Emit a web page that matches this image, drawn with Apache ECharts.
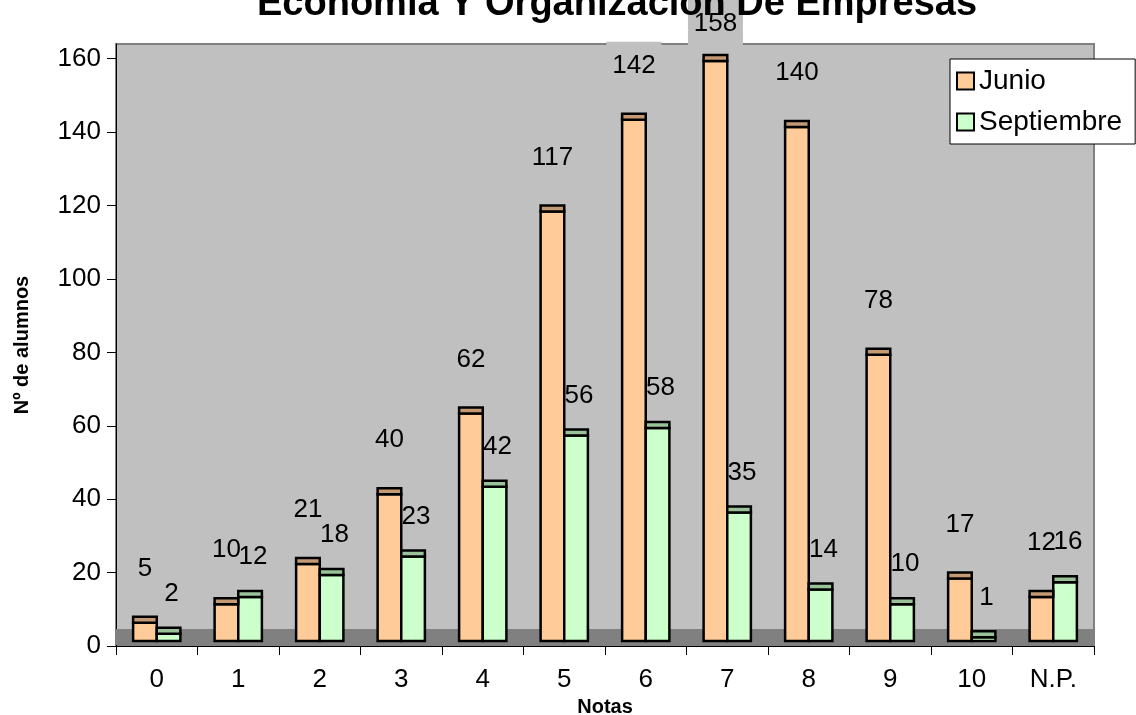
<!DOCTYPE html>
<html>
<head>
<meta charset="utf-8">
<script src="https://cdn.jsdelivr.net/npm/echarts@6/dist/echarts.min.js"></script>
<style>
html,body{margin:0;padding:0;background:#fff;}
#chart{width:1136px;height:715px;}
</style>
</head>
<body>
<div id="chart"></div>
<script>
const categories = ['0','1','2','3','4','5','6','7','8','9','10','N.P.'];
const junio = [5,10,21,40,62,117,142,158,140,78,17,12];
const septiembre = [2,12,18,23,42,56,58,35,14,10,1,16];
const yTicks = [0,20,40,60,80,100,120,140,160];

const FONT = '"Liberation Sans", Arial, sans-serif';
const chart = echarts.init(document.getElementById('chart'), null, {renderer:'canvas'});

function makeRender(side, front, cap, labelUp, labelDx) {
  return function (params, api) {
    const cs = params.coordSys;
    const x = api.value(0), v = api.value(1);
    const base = api.coord([x, 0]);
    const top = api.coord([x, v]);
    const band = api.size([1, 0])[0];
    const bw = band * 0.29;
    const lift = 5, depth = 6;
    const left = side === 0 ? base[0] - bw : base[0];
    const frontTop = top[1] - lift;
    const capTop = frontTop - depth;
    const baseY = base[1] - lift;
    const children = [];
    if (side === 0 && params.dataIndex === 0) {
      children.push({type:'rect', z2:1, shape:{x:cs.x, y:cs.y + cs.height - 17, width:cs.width, height:16},
        style:{fill:'#808080'}});
    }
    children.push({type:'rect', z2:10, shape:{x:left, y:frontTop, width:bw, height:baseY - frontTop},
      style:{fill:front, stroke:'#000', lineWidth:2.5}});
    children.push({type:'rect', z2:11, shape:{x:left, y:capTop, width:bw, height:depth},
      style:{fill:cap, stroke:'#000', lineWidth:2.5}});
    const cx = left + bw / 2 + labelDx;
    const ty = Math.max(capTop - labelUp, 24);
    const boxTop = ty - 24, boxBottom = ty + 24;
    if (boxTop < cs.y) {
      children.push({type:'rect', z2:5, shape:{x:cx - 27.5, y:boxTop, width:55, height:Math.min(boxBottom, cs.y + 1.5) - boxTop},
        style:{fill:'#C0C0C0'}});
    }
    children.push({type:'text', z2:20, x:cx, y:ty,
      style:{text:String(v), fill:'#000', font:'26px ' + FONT, align:'center', verticalAlign:'middle'}});
    return {type:'group', children};
  };
}

const option = {
  animation: false,
  backgroundColor: '#ffffff',
  title: {
    text: 'Economía Y Organización De Empresas',
    left: 257, top: -14, padding: 0, z: 10,
    textStyle: {fontFamily: FONT, fontSize: 38, fontWeight: 'bold', color: '#000'}
  },
  legend: {
    left: 950, top: 59, orient: 'vertical',
    backgroundColor: '#ffffff', borderColor: '#000', borderWidth: 1,
    padding: [8, 13, 8, 6], itemGap: 13, itemWidth: 17, itemHeight: 17,
    textStyle: {fontFamily: FONT, fontSize: 28, color: '#000', lineHeight: 27},
    data: [
      {name:'Junio', icon:'rect', itemStyle:{color:'#FFCC99', borderColor:'#000', borderWidth:2}},
      {name:'Septiembre', icon:'rect', itemStyle:{color:'#CCFFCC', borderColor:'#000', borderWidth:2}}
    ]
  },
  grid: {
    left: 116, right: 42, top: 44, bottom: 69,
    outerBoundsMode: 'none', containLabel: false,
    show: true, backgroundColor: '#C0C0C0', borderColor: '#808080', borderWidth: 2
  },
  xAxis: {
    type: 'category', data: categories,
    axisLine: {show: true, lineStyle: {color: '#000', width: 1}},
    axisTick: {show: true, length: 9, alignWithLabel: false, lineStyle: {color: '#000'}},
    axisLabel: {fontFamily: FONT, fontSize: 26, color: '#000', margin: 21},
    name: 'Notas', nameLocation: 'middle', nameGap: 49,
    nameTextStyle: {fontFamily: FONT, fontSize: 20, fontWeight: 'bold', color: '#000'}
  },
  yAxis: {
    type: 'value', min: 0, max: 164, interval: 20,
    axisLine: {show: true, lineStyle: {color: '#000', width: 1}},
    axisTick: {show: true, length: 9, lineStyle: {color: '#000'}, customValues: yTicks},
    axisLabel: {fontFamily: FONT, fontSize: 26, color: '#000', margin: 15, customValues: yTicks},
    splitLine: {show: false},
    name: 'Nº de alumnos', nameLocation: 'middle', nameGap: 84, nameRotate: 90,
    nameTextStyle: {fontFamily: FONT, fontSize: 20, fontWeight: 'bold', color: '#000'}
  },
  series: [
    {
      name: 'Junio', type: 'custom', clip: false,
      itemStyle: {color: '#FFCC99', borderColor: '#000', borderWidth: 2},
      encode: {x: 0, y: 1},
      data: junio.map((v, i) => [i, v]),
      renderItem: makeRender(0, '#FFCC99', '#C49A74', 48, 0)
    },
    {
      name: 'Septiembre', type: 'custom', clip: false,
      itemStyle: {color: '#CCFFCC', borderColor: '#000', borderWidth: 2},
      encode: {x: 0, y: 1},
      data: septiembre.map((v, i) => [i, v]),
      renderItem: makeRender(1, '#CCFFCC', '#99C299', 34, 3)
    }
  ]
};
chart.setOption(option);
</script>
</body>
</html>
